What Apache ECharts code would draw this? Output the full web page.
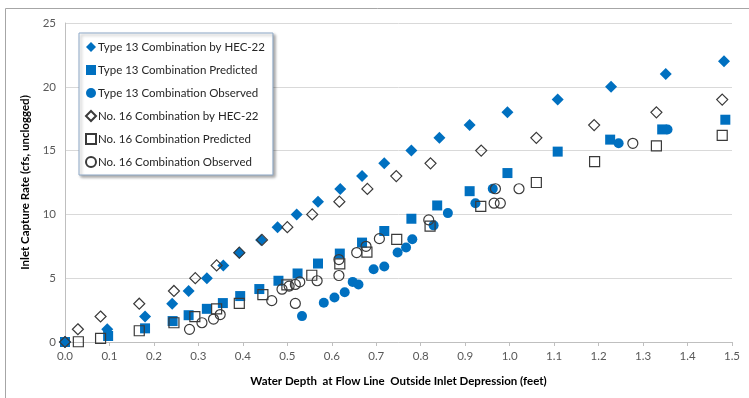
<!DOCTYPE html>
<html>
<head>
<meta charset="utf-8">
<script src="https://cdn.jsdelivr.net/npm/echarts@6/dist/echarts.min.js"></script>
<style>
  html, body { margin: 0; padding: 0; background: #fff; }
  #chart { width: 749px; height: 398px; }
</style>
</head>
<body>
<div id="chart"></div>
<script>
// depth (ft) and capture rate (cfs)
const t13HecX = [0, 0.095, 0.18, 0.241, 0.278, 0.319, 0.356, 0.392, 0.441, 0.478, 0.521, 0.569, 0.619, 0.668, 0.718, 0.779, 0.842, 0.91, 0.995, 1.108, 1.228, 1.351, 1.482];
const t13HecY = [0, 1, 2, 3, 4, 5, 6, 7, 8, 9, 10, 11, 12, 13, 14, 15, 16, 17, 18, 19, 20, 21, 22];

const t13PredX = [0, 0.097, 0.18, 0.242, 0.278, 0.319, 0.355, 0.394, 0.437, 0.48, 0.523, 0.569, 0.618, 0.668, 0.718, 0.779, 0.837, 0.91, 0.995, 1.108, 1.226, 1.343, 1.485];
const t13PredY = [0, 0.47, 1.07, 1.64, 2.1, 2.6, 3.05, 3.6, 4.15, 4.8, 5.37, 6.15, 6.93, 7.79, 8.7, 9.66, 10.7, 11.82, 13.24, 14.92, 15.86, 16.66, 17.42];

const t13ObsX = [0, 0.533, 0.582, 0.606, 0.629, 0.647, 0.66, 0.694, 0.718, 0.748, 0.767, 0.781, 0.829, 0.861, 0.923, 0.962, 1.245, 1.355];
const t13ObsY = [0, 2.03, 3.07, 3.49, 3.9, 4.71, 4.51, 5.7, 5.91, 7.01, 7.4, 8.05, 9.14, 10.1, 10.88, 12.01, 15.57, 16.66];

const n16HecX = [0, 0.029, 0.08, 0.167, 0.245, 0.293, 0.341, 0.392, 0.443, 0.5, 0.556, 0.617, 0.68, 0.745, 0.822, 0.936, 1.06, 1.19, 1.33, 1.478];
const n16HecY = [0, 1, 2, 3, 4, 5, 6, 7, 8, 9, 10, 11, 12, 13, 14, 15, 16, 17, 18, 19];

const n16PredX = [0.03, 0.08, 0.167, 0.245, 0.292, 0.341, 0.392, 0.445, 0.499, 0.555, 0.618, 0.679, 0.746, 0.821, 0.935, 1.06, 1.191, 1.33, 1.478];
const n16PredY = [0.02, 0.29, 0.88, 1.51, 1.99, 2.59, 3.02, 3.71, 4.48, 5.23, 6.13, 7.05, 8.05, 9.08, 10.63, 12.5, 14.13, 15.37, 16.2];

const n16ObsX = [0.28, 0.308, 0.334, 0.349, 0.465, 0.488, 0.504, 0.518, 0.528, 0.518, 0.567, 0.616, 0.616, 0.656, 0.677, 0.707, 0.818, 0.965, 0.979, 0.968, 1.021, 1.277];
const n16ObsY = [0.99, 1.51, 1.8, 2.15, 3.24, 4.14, 4.38, 4.51, 4.71, 3.02, 4.8, 5.21, 6.46, 7.01, 7.5, 8.1, 9.57, 10.88, 10.88, 12.01, 12.01, 15.57];

const seriesNames = [
  "Type 13 Combination by HEC-22",
  "Type 13 Combination Predicted",
  "Type 13 Combination Observed",
  "No. 16 Combination by HEC-22",
  "No. 16 Combination Predicted",
  "No. 16 Combination Observed"
];

const pairs = (xs, ys) => xs.map((x, i) => [x, ys[i]]);

const blue = "#0070C0";
const dark = "#3A3A3A";
const font = "Lato";

const filled = (name, data, symbol, size) => ({
  name: name,
  type: "scatter",
  data: data,
  symbol: symbol,
  symbolSize: size,
  itemStyle: { color: blue, opacity: 1 },
  emphasis: { disabled: true }
});

const hollow = (name, data, symbol, size) => ({
  name: name,
  type: "scatter",
  data: data,
  symbol: symbol,
  symbolSize: size,
  itemStyle: { color: "rgba(255,255,255,0)", borderColor: dark, borderWidth: 1.2, opacity: 1 },
  emphasis: { disabled: true }
});

const chart = echarts.init(document.getElementById("chart"));

const option = {
  animation: false,
  textStyle: { fontFamily: font },
  graphic: [
    {
      type: "rect",
      shape: { x: 5.5, y: 8.5, width: 800, height: 420 },
      style: { fill: "none", stroke: "#A6A6A6", lineWidth: 1 },
      silent: true,
      z: -1
    }
  ],
  grid: { left: 65, right: 17, top: 23, bottom: 56 },
  legend: {
    orient: "vertical",
    left: 79,
    top: 33,
    width: 188,
    data: seriesNames,
    itemWidth: 10,
    itemHeight: 10,
    itemGap: 11,
    padding: [8, 8, 7, 6],
    backgroundColor: "#fff",
    borderColor: "#8EA9C8",
    borderWidth: 1,
    shadowColor: "rgba(0,0,0,0.35)",
    shadowBlur: 3,
    shadowOffsetX: 2,
    shadowOffsetY: 2,
    textStyle: { fontFamily: font, fontSize: 11.5, color: "#262626", padding: [0, 0, 0, -3] }
  },
  xAxis: {
    type: "value",
    min: 0,
    max: 1.5,
    interval: 0.1,
    name: "Water Depth  at Flow Line  Outside Inlet Depression (feet)",
    nameLocation: "middle",
    nameGap: 33,
    nameTextStyle: { fontFamily: font, fontSize: 11.5, fontWeight: "bold", color: "#000" },
    axisLine: { show: true, lineStyle: { color: "#BFBFBF" } },
    axisTick: { show: true, length: 4, lineStyle: { color: "#BFBFBF" } },
    axisLabel: {
      color: "#595959",
      fontSize: 11.5,
      margin: 8,
      formatter: (v) => v.toFixed(1)
    },
    splitLine: { show: false }
  },
  yAxis: {
    type: "value",
    min: 0,
    max: 25,
    interval: 5,
    name: "Inlet Capture Rate (cfs, unclogged)",
    nameLocation: "middle",
    nameGap: 28,
    nameTextStyle: { fontFamily: font, fontSize: 11.5, fontWeight: "bold", color: "#000" },
    axisLine: { show: true, lineStyle: { color: "#BFBFBF" } },
    axisTick: { show: false },
    axisLabel: { color: "#595959", fontSize: 11.5, margin: 9 },
    splitLine: { show: true, lineStyle: { color: "#D9D9D9", width: 1 } }
  },
  series: [
    filled(seriesNames[0], pairs(t13HecX, t13HecY), "diamond", 12),
    filled(seriesNames[1], pairs(t13PredX, t13PredY), "rect", 10),
    filled(seriesNames[2], pairs(t13ObsX, t13ObsY), "circle", 10),
    hollow(seriesNames[3], pairs(n16HecX, n16HecY), "diamond", 11),
    hollow(seriesNames[4], pairs(n16PredX, n16PredY), "rect", 10),
    hollow(seriesNames[5], pairs(n16ObsX, n16ObsY), "circle", 10)
  ]
};

chart.setOption(option);
</script>
</body>
</html>
